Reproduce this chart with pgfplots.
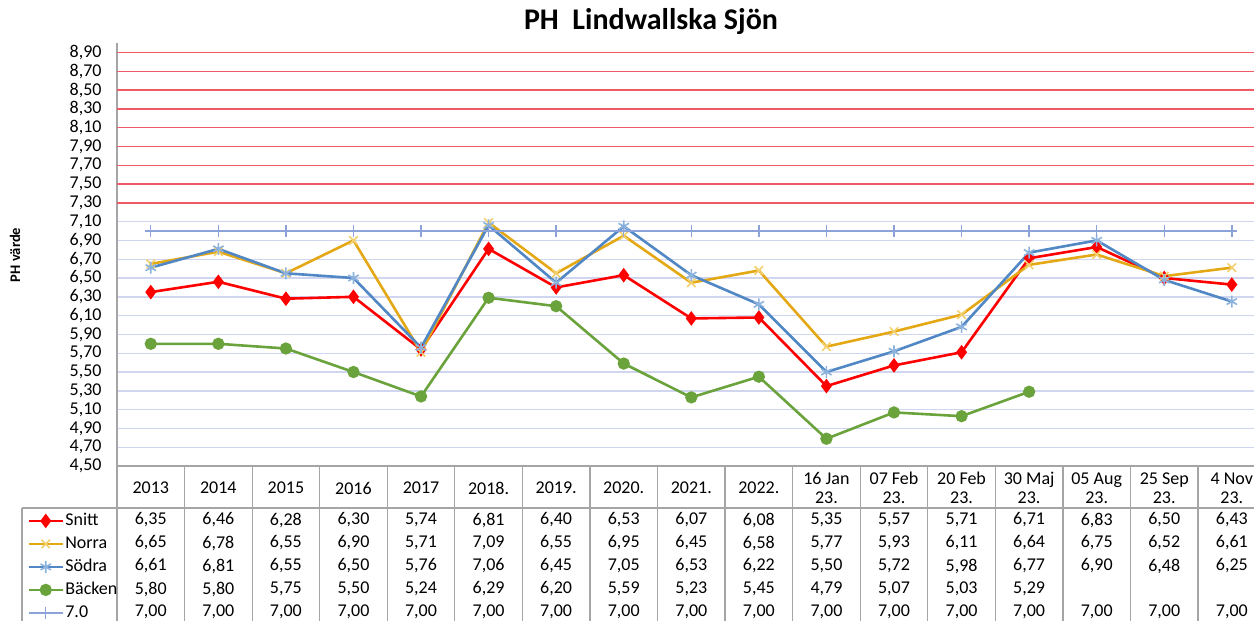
\documentclass[border=0pt]{standalone}
\usepackage{pgfplots}
\usepackage{pgfplotstable}
\pgfplotsset{compat=1.18}
\usepackage{fontspec}
\setmainfont{Carlito}

\definecolor{cSnitt}{RGB}{255,0,0}
\definecolor{cNorra}{RGB}{228,168,20}
\definecolor{cNorraM}{RGB}{242,208,110}
\definecolor{cSodra}{RGB}{80,135,196}
\definecolor{cSodraM}{RGB}{140,178,222}
\definecolor{cBacken}{RGB}{106,162,60}
\definecolor{cRef}{RGB}{140,162,216}
\definecolor{gridBlue}{RGB}{208,214,240}
\definecolor{gridRed}{RGB}{240,90,100}
\definecolor{tabline}{RGB}{165,165,165}

% pH per provtillfälle
\pgfplotstableread{
i  snitt norra sodra backen ref
0  6.35  6.65  6.61  5.80   7.00
1  6.46  6.78  6.81  5.80   7.00
2  6.28  6.55  6.55  5.75   7.00
3  6.30  6.90  6.50  5.50   7.00
4  5.74  5.71  5.76  5.24   7.00
5  6.81  7.09  7.06  6.29   7.00
6  6.40  6.55  6.45  6.20   7.00
7  6.53  6.95  7.05  5.59   7.00
8  6.07  6.45  6.53  5.23   7.00
9  6.08  6.58  6.22  5.45   7.00
10 5.35  5.77  5.50  4.79   7.00
11 5.57  5.93  5.72  5.07   7.00
12 5.71  6.11  5.98  5.03   7.00
13 6.71  6.64  6.77  5.29   7.00
14 6.83  6.75  6.90  nan    7.00
15 6.50  6.52  6.48  nan    7.00
16 6.43  6.61  6.25  nan    7.00
}\phdata

\pgfkeys{/pgf/number format/.cd, use comma, fixed, fixed zerofill, precision=2, assume math mode=true}

\newcommand{\tabfont}{\fontsize{9}{9.5}\selectfont}

\begin{document}
\begin{tikzpicture}
\path[use as bounding box] (0,0) rectangle (627pt,-310.5pt);
\node[font=\fontsize{15}{17}\selectfont\bfseries] at (325.5pt,-11pt) {PH\ \ Lindwallska Sjön};
\node[rotate=90, font=\fontsize{7.3}{8}\selectfont\bfseries] at (7.5pt,-127.5pt) {PH värde};
\begin{axis}[
    at={(58.5pt,-233pt)}, anchor=south west,
    scale only axis, width=574.3pt, height=211.5pt,
    xmin=-0.5, xmax=16.5, ymin=4.5, ymax=9.0,
    clip=false,
    axis x line*=bottom, axis y line*=left,
    axis line style={tabline, line width=0.6pt},
    major tick length=0pt,
    ytick={4.5,4.7,4.9,5.1,5.3,5.5,5.7,5.9,6.1,6.3,6.5,6.7,6.9,7.1},
    extra y ticks={7.3,7.5,7.7,7.9,8.1,8.3,8.5,8.7,8.9},
    extra y tick style={grid style={gridRed, line width=0.7pt}},
    ymajorgrids, grid style={gridBlue, line width=0.7pt},
    yticklabel style={font=\tabfont, xshift=-4.2pt},
    xtick={0,...,16},
    xticklabels={2013,2014,2015,2016,2017,2018.,2019.,2020.,2021.,2022.,
        {16 Jan\\23.},{07 Feb\\23.},{20 Feb\\23.},{30 Maj\\23.},
        {05 Aug\\23.},{25 Sep\\23.},{4 Nov\\23.}},
    xticklabel style={font=\tabfont, align=center, anchor=center, yshift=-11pt},
    every node near coord/.append style={font=\tabfont, text=black, anchor=center},
    legend style={at={(-0.0827,-0.1017)}, anchor=north west, draw=none, fill=none,
        font=\tabfont, inner xsep=2.5pt, inner ysep=0pt, row sep=0pt,
        nodes={inner ysep=0pt, inner xsep=0.6pt, text height=8pt, text depth=3.5pt}},
    legend cell align=left,
]
\addplot[cSnitt, line width=1.3pt, mark=diamond*, mark size=2.6pt, mark options={fill=cSnitt}]
    table[x=i, y=snitt] {\phdata};
\addlegendentry{Snitt}
\addplot[cNorra, line width=1.3pt, mark=x, mark size=3pt, mark options={draw=cNorraM, line width=0.8pt}]
    table[x=i, y=norra] {\phdata};
\addlegendentry{Norra}
\addplot[cSodra, line width=1.3pt, mark=asterisk, mark size=3pt, mark options={draw=cSodraM, line width=0.8pt}]
    table[x=i, y=sodra] {\phdata};
\addlegendentry{Södra}
\addplot[cBacken, line width=1.3pt, mark=*, mark size=2.4pt, mark options={fill=cBacken}, unbounded coords=discard]
    table[x=i, y=backen] {\phdata};
\addlegendentry{Bäcken}
\addplot[cRef, line width=1.1pt, mark=+, mark size=2.8pt, mark options={line width=0.7pt}]
    table[x=i, y=ref] {\phdata};
\addlegendentry{7.0}

% datatabell under diagrammet
\addplot[draw=none, forget plot, nodes near coords, point meta=explicit,
    every node near coord/.append style={yshift=-27pt}]
    table[x=i, y expr=4.5, meta=snitt] {\phdata};
\addplot[draw=none, forget plot, nodes near coords, point meta=explicit,
    every node near coord/.append style={yshift=-38.5pt}]
    table[x=i, y expr=4.5, meta=norra] {\phdata};
\addplot[draw=none, forget plot, nodes near coords, point meta=explicit,
    every node near coord/.append style={yshift=-50pt}]
    table[x=i, y expr=4.5, meta=sodra] {\phdata};
\addplot[draw=none, forget plot, nodes near coords, point meta=explicit,
    restrict x to domain=0:13,
    every node near coord/.append style={yshift=-61.5pt}]
    table[x=i, y expr=4.5, meta=backen] {\phdata};
\addplot[draw=none, forget plot, nodes near coords, point meta=explicit,
    every node near coord/.append style={yshift=-73pt}]
    table[x=i, y expr=4.5, meta=ref] {\phdata};

\pgfplotsinvokeforeach{0,...,17}{
    \draw[tabline, line width=0.6pt] (rel axis cs:#1/17,0) -- ++(0pt,-80pt);
}
\draw[tabline, line width=0.6pt] (axis description cs:-0.0827,-0.0993) -- (axis description cs:1,-0.0993);
\draw[tabline, line width=0.6pt] (axis description cs:-0.0827,-0.0993) -- (axis description cs:-0.0827,-0.45);
\end{axis}
\end{tikzpicture}
\end{document}
